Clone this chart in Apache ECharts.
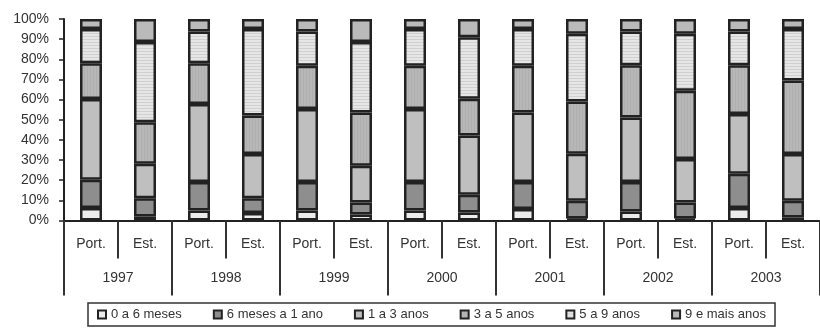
<!DOCTYPE html>
<html>
<head>
<meta charset="utf-8">
<script src="https://cdn.jsdelivr.net/npm/echarts@6/dist/echarts.min.js"></script>
<style>
  html, body { margin: 0; padding: 0; background: #fff; }
  #chart { width: 820px; height: 330px; }
</style>
</head>
<body>
<div id="chart"></div>
<script>
// Categories: Portuguese vs. foreign ("Est.") for each year
const categories = ['Port.', 'Est.', 'Port.', 'Est.', 'Port.', 'Est.', 'Port.', 'Est.',
                    'Port.', 'Est.', 'Port.', 'Est.', 'Port.', 'Est.'];
const years = ['1997', '1998', '1999', '2000', '2001', '2002', '2003'];
const yTicks = [0, 10, 20, 30, 40, 50, 60, 70, 80, 90, 100];

// Share (%) of each duration class, bottom to top of each stack
const seriesNames = ['0 a 6 meses', '6 meses a 1 ano', '1 a 3 anos', '3 a 5 anos', '5 a 9 anos', '9 e mais anos'];
const meses0a6   = [6.2, 2.0, 5.0, 3.7, 5.0, 3.0, 5.0, 4.0, 5.7, 1.0, 4.5, 1.0, 6.2, 1.5];
const meses6a1   = [14.0, 9.1, 14.1, 7.4, 14.1, 5.9, 14.1, 8.8, 13.4, 8.8, 14.6, 7.9, 17.0, 8.3];
const anos1a3    = [40.1, 17.1, 38.7, 21.9, 36.2, 18.3, 36.2, 29.4, 34.5, 23.3, 32.0, 21.6, 29.6, 23.2];
const anos3a5    = [17.8, 20.5, 20.3, 19.1, 21.5, 26.4, 21.5, 18.2, 23.2, 26.0, 25.9, 33.9, 24.2, 36.5];
const anos5a9    = [16.9, 39.9, 15.7, 42.9, 17.0, 35.0, 18.2, 30.6, 18.2, 33.6, 16.8, 28.3, 16.8, 25.5];
const anos9mais  = [5.0, 11.4, 6.2, 5.0, 6.2, 11.4, 5.0, 9.0, 5.0, 7.3, 6.2, 7.3, 6.2, 5.0];
const seriesData = [meses0a6, meses6a1, anos1a3, anos3a5, anos5a9, anos9mais];

// Striped fill patterns drawn on small canvases
function stripePattern(bg, line, horizontal, step) {
  const c = document.createElement('canvas');
  c.width = step; c.height = step;
  const ctx = c.getContext('2d');
  ctx.fillStyle = bg;
  ctx.fillRect(0, 0, step, step);
  ctx.fillStyle = line;
  if (horizontal) ctx.fillRect(0, 0, step, 1);
  else ctx.fillRect(0, 0, 1, step);
  return { image: c, repeat: 'repeat' };
}

const fills = [
  '#ececec',
  '#8e8e8e',
  '#bfbfbf',
  stripePattern('#b7b7b7', '#afafaf', false, 3),
  stripePattern('#e6e6e6', '#d0d0d0', true, 3),
  '#bababa'
];

const FONT = 'Liberation Sans, Arial, sans-serif';
const TEXT = '#333';

const chart = echarts.init(document.getElementById('chart'), null, { renderer: 'canvas' });

const option = {
  backgroundColor: '#ffffff',
  animation: false,
  grid: { left: 64, right: 0, top: 19, bottom: 109.5, containLabel: false },
  legend: {
    show: true,
    left: 88,
    top: 303,
    orient: 'horizontal',
    itemWidth: 8,
    itemHeight: 8,
    itemGap: 31,
    icon: 'rect',
    padding: [5, 9, 5, 9],
    borderColor: '#333',
    borderWidth: 1.5,
    textStyle: { fontFamily: FONT, fontSize: 13, color: TEXT },
    itemStyle: { borderColor: '#222', borderWidth: 2 },
    data: seriesNames
  },
  xAxis: [
    {
      type: 'category',
      data: categories,
      position: 'bottom',
      boundaryGap: true,
      axisLine: { show: true, lineStyle: { color: '#222', width: 2 } },
      axisTick: { show: true, interval: 0, length: 38, lineStyle: { color: '#333', width: 2 } },
      axisLabel: { interval: 0, margin: 17, fontFamily: FONT, fontSize: 14, color: TEXT },
      splitLine: { show: false }
    },
    {
      type: 'category',
      data: years,
      position: 'bottom',
      boundaryGap: true,
      axisLine: { show: false },
      axisTick: { show: true, interval: 0, length: 75, lineStyle: { color: '#333', width: 2 } },
      axisLabel: { interval: 0, margin: 51, fontFamily: FONT, fontSize: 14, color: TEXT },
      splitLine: { show: false }
    }
  ],
  yAxis: {
    type: 'value',
    min: yTicks[0],
    max: yTicks[yTicks.length - 1],
    interval: yTicks[1] - yTicks[0],
    axisLine: { show: true, lineStyle: { color: '#222', width: 2 } },
    axisTick: { show: true, length: 5, lineStyle: { color: '#222', width: 1.5 } },
    axisLabel: { formatter: '{value}%', margin: 15, fontFamily: FONT, fontSize: 14, color: TEXT },
    splitLine: { show: false }
  },
  series: seriesNames.map((name, i) => ({
    name: name,
    type: 'bar',
    stack: 'total',
    xAxisIndex: 0,
    barWidth: 22,
    data: seriesData[i],
    itemStyle: { color: fills[i], borderColor: '#222', borderWidth: 2.5 },
    emphasis: { disabled: true }
  }))
};

chart.setOption(option);
</script>
</body>
</html>
